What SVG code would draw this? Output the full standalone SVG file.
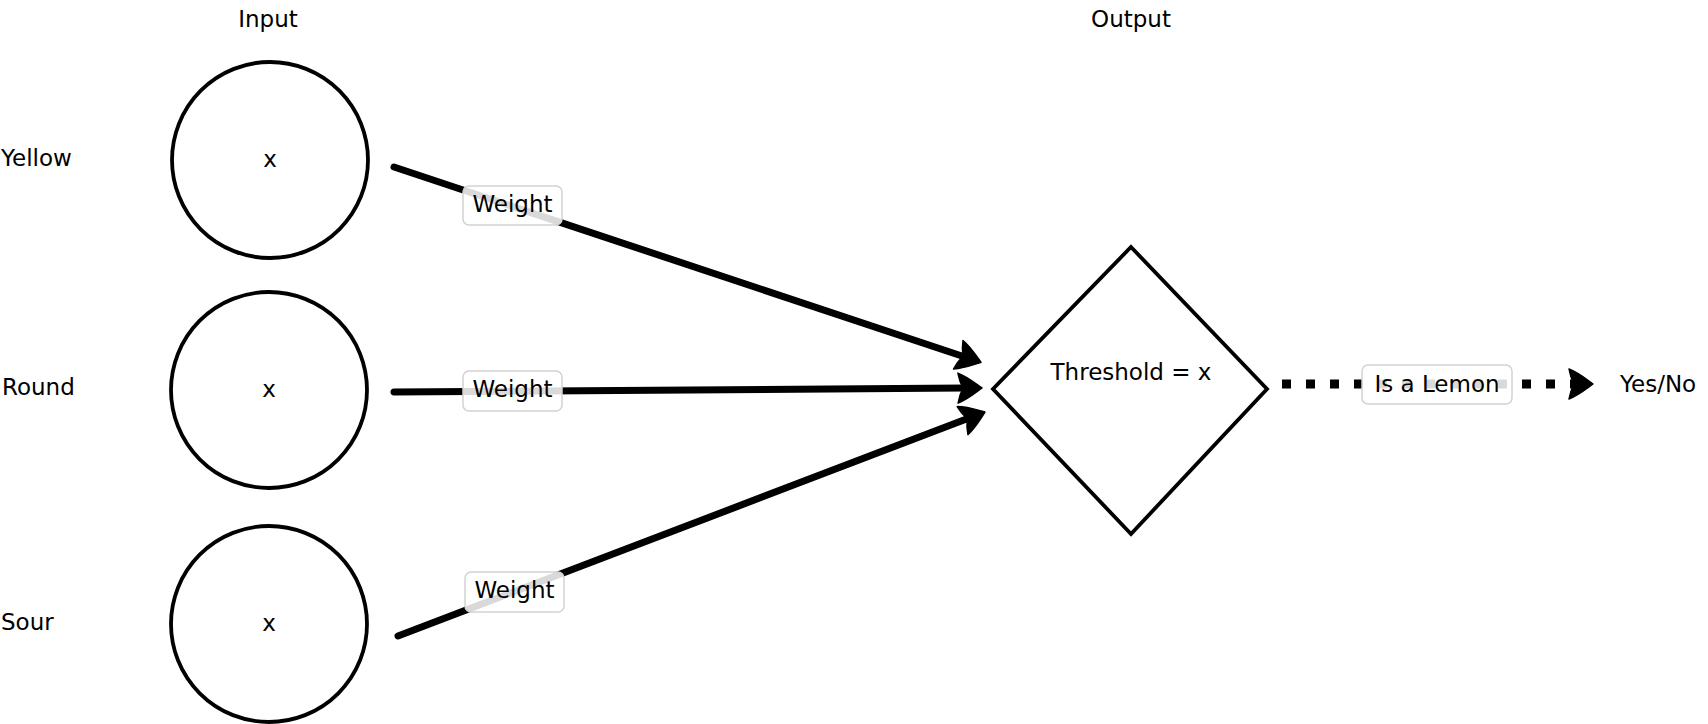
<svg xmlns="http://www.w3.org/2000/svg" width="1708" height="724" viewBox="0 0 1708 724">
<style>
text { font-family: "DejaVu Sans", "Liberation Sans", sans-serif; font-size: 23px; fill: #000; }
.c { text-anchor: middle; }
.node { fill: #fff; stroke: #000; stroke-width: 3.8; }
.edge { fill: none; stroke: #000; stroke-width: 7; stroke-linecap: round; }
.dash { fill: none; stroke: #000; stroke-width: 9; stroke-dasharray: 9 15; }
.lbl { fill: #fff; fill-opacity: 0.85; stroke: #d2d2d2; stroke-width: 1.5; }
</style>
<defs>
<marker id="ah" markerUnits="userSpaceOnUse" viewBox="-12 -20 34 40" markerWidth="34" markerHeight="40" refX="0" refY="0" orient="auto" overflow="visible">
<path d="M17,0 C10,-5 3,-11 -7,-15 C-6,-9 -4,-4 -2,0 C-4,4 -6,9 -7,15 C3,11 10,5 17,0 Z" fill="#000" stroke="#000" stroke-width="1.5" stroke-linejoin="round"/>
</marker>
</defs>
<rect width="1708" height="724" fill="#fff"/>
<g id="headers">
<text class="c" x="268" y="27">Input</text>
<text class="c" x="1131" y="27">Output</text>
</g>
<g id="side-labels">
<text x="1" y="166">Yellow</text>
<text x="2" y="395">Round</text>
<text x="1" y="630">Sour</text>
<text x="1620" y="392">Yes/No</text>
</g>
<g id="connectors">
<line class="edge" x1="394" y1="167" x2="964.9" y2="357" marker-end="url(#ah)"/>
<line class="edge" x1="394" y1="392" x2="965" y2="388.1" marker-end="url(#ah)"/>
<line class="edge" x1="398" y1="636" x2="969.1" y2="418.1" marker-end="url(#ah)"/>
<line class="dash" x1="1282" y1="384" x2="1576" y2="384" marker-end="url(#ah)"/>
<g id="edge-labels">
<rect class="lbl" x="463" y="186" width="99" height="39" rx="6"/>
<text class="c" x="512.5" y="212">Weight</text>
<rect class="lbl" x="463" y="371" width="99" height="40" rx="6"/>
<text class="c" x="512.5" y="397">Weight</text>
<rect class="lbl" x="465" y="572" width="99" height="40" rx="6"/>
<text class="c" x="514.5" y="598">Weight</text>
<rect class="lbl" x="1362" y="365" width="150" height="39" rx="6"/>
<text class="c" x="1437" y="392">Is a Lemon</text>
</g>
</g>
<g id="input-yellow">
<circle class="node" cx="270" cy="160" r="98"/>
<text class="c" x="270" y="167">x</text>
</g>
<g id="input-round">
<circle class="node" cx="269" cy="390" r="98"/>
<text class="c" x="269" y="397">x</text>
</g>
<g id="input-sour">
<circle class="node" cx="269" cy="624" r="98"/>
<text class="c" x="269" y="631">x</text>
</g>
<g id="threshold">
<polygon class="node" points="1131,247 1267,389 1131,534 993,389"/>
<text class="c" x="1131" y="380">Threshold = x</text>
</g>
</svg>
